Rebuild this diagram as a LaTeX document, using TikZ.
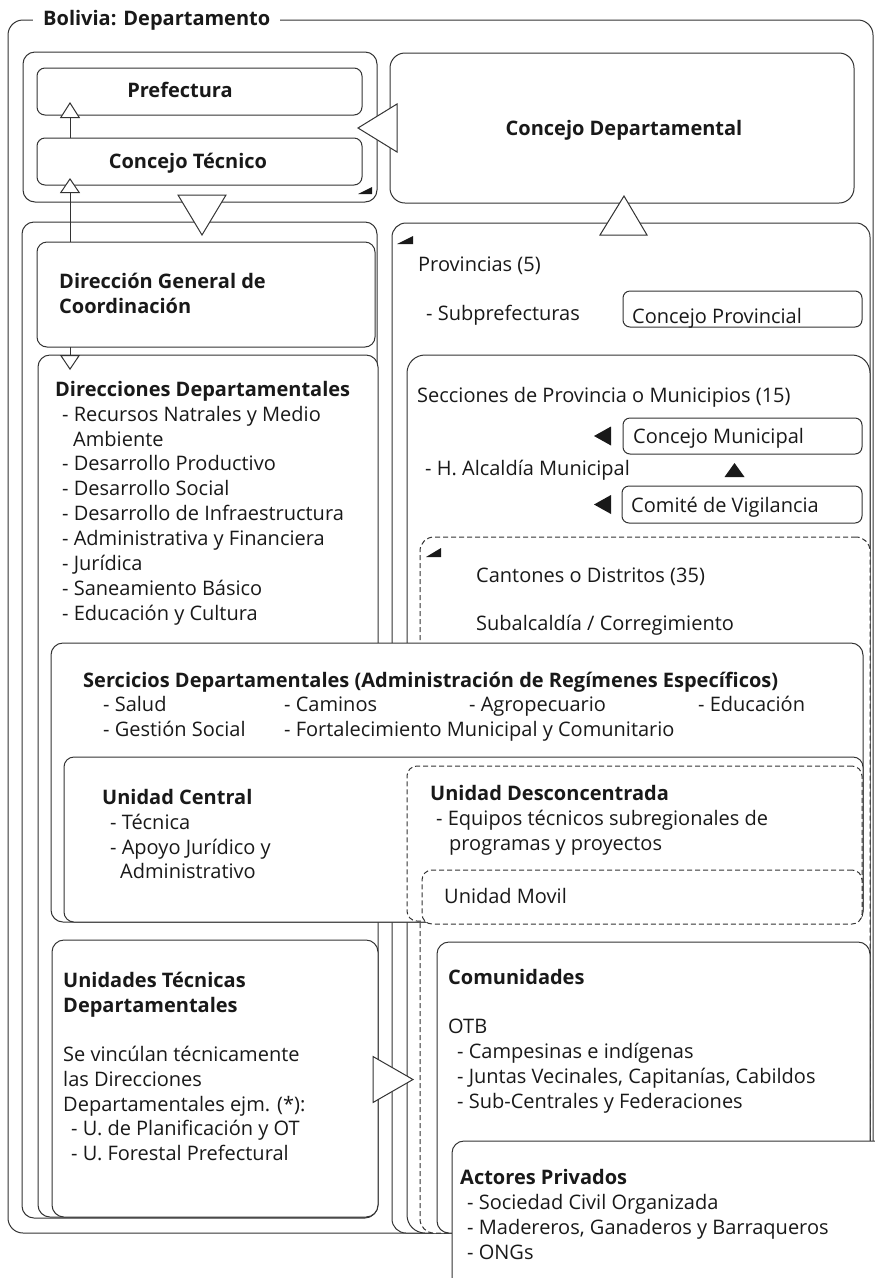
\documentclass[tikz,border=0pt]{standalone}
\usepackage{fontspec}
\setmainfont{Open Sans}
\usetikzlibrary{arrows.meta,calc,positioning}

\tikzset{
  blk/.style={draw=black!80, line width=1pt, fill=white, rounded corners=#1,
    anchor=north west, inner sep=0pt, outer sep=0pt},
  blk/.default=10pt,
  dblk/.style={blk=#1, dash pattern=on 5pt off 3pt},
  dblk/.default=10pt,
  txt/.style={anchor=base west, inner sep=0pt, font=\fontsize{20}{24}\selectfont, text=black!90},
  btxt/.style={txt, font=\fontsize{20}{24}\selectfont\bfseries},
  wtri/.style={draw=black!80, line width=1pt, fill=white, line join=miter},
  btri/.style={fill=black!90},
  connect line/.style={draw=black!80, line width=1pt,
    -{Triangle[length=#1, width=20pt, fill=white]}},
  connect line/.default=15pt
}

% caja: nombre, esquinas (x1,y1,x2,y2) en px, estilo
\def\orgbox(#1)<#2,#3,#4,#5>[#6];{
  \pgfmathsetmacro\bw{#4-#2}\pgfmathsetmacro\bh{#5-#3}
  \node[#6, minimum width=\bw pt, minimum height=\bh pt] (#1) at (#2,#3) {};
}
% lineas de texto, una bajo otra (25px)
\def\lines(#1)<#2,#3>[#4]#5;{
  \foreach \txtline [count=\i] in {#5}
    {\node[#4] (#1\i) at (#2,{#3+7+25*(\i-1)}) {\txtline};}
}

\begin{document}
\begin{tikzpicture}[x=1pt, y=-1pt]
\useasboundingbox (0,0) rectangle (875,1278);

%---------------------------------------------
\orgbox(dep)<8,20,873,1233>[blk=15pt];
\node[btxt, anchor=west, fill=white, inner xsep=10pt, inner ysep=3pt] (titulo) at (33,20) {Bolivia: Departamento};

\orgbox(gob)<23,52,377,202>[blk=12pt];
\orgbox(pref)<37,68,362,115>[blk=8pt];
\orgbox(ctec)<37,138,362,185>[blk=8pt];
\node[btxt, anchor=base] (preft) at (180,97) {Prefectura};
\node[btxt, anchor=base] (ctect) at (188,168) {Concejo Técnico};
\fill[btri] ($(gob.south east)+(-19,-8)$) -- ++(14,0) -- ++(0,-7) -- cycle;

\orgbox(cdep)<390,53,854,203>[blk=15pt];
\node[btxt, anchor=base] (cdept) at (624,135) {Concejo Departamental};

%---------------------------------------------
\orgbox(izq)<22,222,377,1218>[blk=12pt];
\orgbox(dgc)<37,242,375,347>[blk=10pt];
\lines(dgct)<59,281>[btxt]{Dirección General de, Coordinación};
\orgbox(ddep)<38,355,378,1217>[blk=12pt];
\lines(ddeph)<55,389>[btxt]{Direcciones Departamentales};
\lines(ddepa)<62,414>[txt]{- Recursos Natrales y Medio};
\lines(ddepb)<73,439>[txt]{Ambiente};
\lines(ddepc)<62,463>[txt]{- Desarrollo Productivo, - Desarrollo Social,
  - Desarrollo de Infraestructura, - Administrativa y Financiera,
  - Jurídica, - Saneamiento Básico, - Educación y Cultura};

%---------------------------------------------
\orgbox(prov)<392,223,870,1233>[blk=14pt];
\fill[btri] ($(prov.north west)+(5,21)$) -- ++(16,0) -- ++(0,-8) -- cycle;
\lines(provt)<418,264>[txt]{Provincias (5)};
\lines(subp)<426,313>[txt]{- Subprefecturas};
\orgbox(cprov)<623,291,862,327>[blk=7pt];
\node[txt] (cprovt) at (632,323) {Concejo Provincial};

\orgbox(secc)<407,355,870,1233>[blk=18pt];
\lines(secct)<417,395>[txt]{Secciones de Provincia o Municipios (15)};
\orgbox(cmun)<623,418,862,454>[blk=7pt];
\node[txt] (cmunt) at (633,443) {Concejo Municipal};
\lines(alc)<425,468>[txt]{- H. Alcaldía Municipal};
\orgbox(cvig)<622,486,862,523>[blk=7pt];
\node[txt] (cvigt) at (631,512) {Comité de Vigilancia};
\fill[btri] ($(cmun.west)+(-29,0)$) -- ++(17,-9.5) -- ++(0,19) -- cycle;
\fill[btri] ($(cvig.west)+(-28,0)$) -- ++(17,-9.5) -- ++(0,19) -- cycle;
\fill[btri] ($(cmun.south)+(-8,9)$) -- ++(10,14) -- ++(-20,0) -- cycle;

\orgbox(cant)<420,537,870,1233>[dblk=14pt];
\fill[btri] ($(cant.north west)+(6,20)$) -- ++(15,0) -- ++(0,-9) -- cycle;
\lines(cantt)<476,575>[txt]{Cantones o Distritos (35)};
\lines(subalc)<476,623>[txt]{Subalcaldía / Corregimiento};

%---------------------------------------------
\orgbox(serv)<51,643,863,922>[blk=12pt];
\lines(servt)<83,680>[btxt]{Sercicios Departamentales (Administración de Regímenes Específicos)};
\node[txt] (sal)  at (103,711) {- Salud};
\node[txt] (cam)  at (284,711) {- Caminos};
\node[txt] (agro) at (469,711) {- Agropecuario};
\node[txt] (edu)  at (698,711) {- Educación};
\node[txt] (ges)  at (103,736) {- Gestión Social};
\node[txt] (fort) at (284,736) {- Fortalecimiento Municipal y Comunitario};

\orgbox(ucen)<64,757,863,922>[blk=10pt];
\lines(ucenh)<102,797>[btxt]{Unidad Central};
\lines(ucenl)<110,822>[txt]{- Técnica, - Apoyo Jurídico y};
\lines(ucenm)<120,871>[txt]{Administrativo};

\orgbox(udes)<407,766,862,921>[dblk=10pt];
\lines(udesh)<430,793>[btxt]{Unidad Desconcentrada};
\lines(udesl)<436,818>[txt]{- Equipos técnicos subregionales de};
\lines(udesm)<449,843>[txt]{programas y proyectos};
\orgbox(umov)<422,870,862,924>[dblk=10pt];
\lines(umovt)<444,896>[txt]{Unidad Movil};

%---------------------------------------------
\orgbox(com)<437,942,870,1233>[blk=12pt];
\lines(comh)<448,977>[btxt]{Comunidades};
\lines(otb)<448,1026>[txt]{OTB};
\lines(otbl)<457,1051>[txt]{- Campesinas e indígenas, {- Juntas Vecinales, Capitanías, Cabildos},
  - Sub-Centrales y Federaciones};

\orgbox(utd)<52,940,378,1217>[blk=12pt];
\lines(utdh)<63,980>[btxt]{Unidades Técnicas, Departamentales};
\lines(utdt)<63,1054>[txt]{Se vincúlan técnicamente, las Direcciones,
  Departamentales ejm. (*):};
\lines(utdl)<71,1128>[txt]{- U. de Planificación y OT, - U. Forestal Prefectural};

%---------------------------------------------
\draw[wtri] ($(cdep.west)+(-32,0)$) -- ++(39,-24) -- ++(0,48) -- cycle;
\draw[wtri] ($(gob.south)+(-22,-7)$) -- ++(48,0) -- ++(-24,40) -- cycle;
\draw[wtri] ($(cdep.south)+(2,-7)$) -- ++(-24,39) -- ++(47,0) -- cycle;
\draw[wtri] ($(utd.east)+(-5,-22)$) -- ++(0,46) -- ++(40,-23) -- cycle;

\draw[connect line=16pt] ([xshift=33pt]ctec.north west) -- ([xshift=33pt,yshift=13pt]pref.south west);
\draw[connect line] ([xshift=33pt]dgc.north west) -- ([xshift=33pt,yshift=7pt]ctec.south west);
\draw[connect line] ([xshift=33pt]dgc.south west) -- ([xshift=32pt,yshift=-15pt]ddep.north west);

%---------------------------------------------
\orgbox(act)<452,1141,900,1300>[blk=12pt];
\lines(acth)<460,1177>[btxt]{Actores Privados};
\lines(actl)<467,1202>[txt]{- Sociedad Civil Organizada, - Madereros{,} Ganaderos y Barraqueros, - ONGs};

\end{tikzpicture}
\end{document}
